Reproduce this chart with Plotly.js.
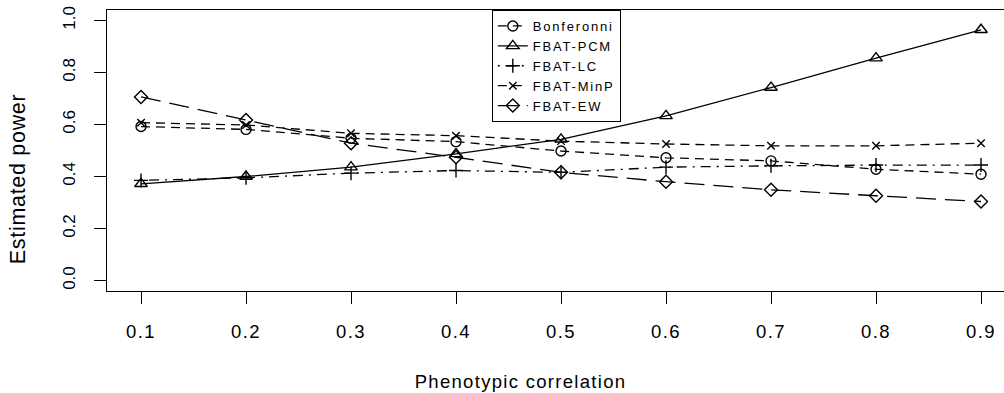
<!DOCTYPE html>
<html>
<head>
<meta charset="utf-8">
<script src="https://cdn.plot.ly/plotly-3.0.1.min.js"></script>
<style>
html,body{margin:0;padding:0;background:#fff;}
#chart{width:1004px;height:393px;}
#chart .xtick text{letter-spacing:1.4px;}
#chart .annotation[data-index="0"] text{letter-spacing:1.3px;}
#chart .annotation[data-index="1"] text{letter-spacing:0.7px;}
.legendtext{letter-spacing:1.8px;}
</style>
</head>
<body>
<div id="chart"></div>
<script>
const correlation = [0.1, 0.2, 0.3, 0.4, 0.5, 0.6, 0.7, 0.8, 0.9];
const bonferonni = [0.592, 0.581, 0.547, 0.534, 0.498, 0.472, 0.460, 0.428, 0.409];
const fbatPCM    = [0.372, 0.400, 0.436, 0.487, 0.543, 0.633, 0.742, 0.855, 0.964];
const fbatLC     = [0.385, 0.395, 0.413, 0.423, 0.416, 0.436, 0.441, 0.444, 0.444];
const fbatMinP   = [0.607, 0.598, 0.566, 0.557, 0.536, 0.525, 0.518, 0.518, 0.528];
const fbatEW     = [0.706, 0.617, 0.528, 0.474, 0.416, 0.380, 0.349, 0.326, 0.304];
const seriesNames = ["Bonferonni", "FBAT-PCM", "FBAT-LC", "FBAT-MinP", "FBAT-EW"];
const xTicks = [0.1, 0.2, 0.3, 0.4, 0.5, 0.6, 0.7, 0.8, 0.9];
const xTickText = ["0.1", "0.2", "0.3", "0.4", "0.5", "0.6", "0.7", "0.8", "0.9"];
const yTicks = [0, 0.2, 0.4, 0.6, 0.8, 1.0];
const yTickText = ["0.0", "0.2", "0.4", "0.6", "0.8", "1.0"];
const xTitle = "Phenotypic correlation";
const yTitle = "Estimated power";

const FONT = "Liberation Sans, Arial, Helvetica, sans-serif";
function tr(name, y, symbol, size, dash) {
  return {
    x: correlation, y: y, name: name, type: "scatter", mode: "lines+markers",
    line: {color: "#000", width: 1.3, dash: dash},
    marker: {symbol: symbol, size: size, color: "#000", line: {color: "#000", width: 1.4}}
  };
}
const data = [
  tr(seriesNames[0], bonferonni, "circle-open", 10, "9px,6px"),
  tr(seriesNames[1], fbatPCM, "triangle-up-open", 11, "solid"),
  tr(seriesNames[2], fbatLC, "cross-thin-open", 10, "2px,6px,10px,6px"),
  tr(seriesNames[3], fbatMinP, "x-thin-open", 7.5, "9px,6px"),
  tr(seriesNames[4], fbatEW, "diamond-open", 10, "20px,9px")
];
const layout = {
  width: 1004, height: 393,
  margin: {l: 107, r: 0, t: 10, b: 102, pad: 0},
  paper_bgcolor: "#fff", plot_bgcolor: "#fff",
  font: {family: FONT, size: 14, color: "#000"},
  showlegend: true,
  legend: {
    x: 0.429, y: 1, xanchor: "left", yanchor: "top",
    bordercolor: "#000", borderwidth: 1, bgcolor: "#fff",
    font: {family: FONT, size: 13, color: "#000"},
    tracegroupgap: 0
  },
  xaxis: {
    range: [0.0676, 0.9219],
    tickvals: xTicks, ticktext: xTickText,
    tickfont: {family: FONT, size: 18.5},
    ticks: "outside", ticklen: 12, tickwidth: 1, tickcolor: "#000",
    ticklabelstandoff: 11,
    showline: true, mirror: true, linecolor: "#000", linewidth: 1.3,
    showgrid: false, zeroline: false
  },
  yaxis: {
    range: [-0.04, 1.04],
    tickvals: yTicks, ticktext: yTickText, tickangle: -90,
    tickfont: {family: FONT, size: 17},
    ticks: "outside", ticklen: 12, tickwidth: 1, tickcolor: "#000",
    ticklabelstandoff: 12,
    showline: true, mirror: false, linecolor: "#000", linewidth: 1.3,
    showgrid: false, zeroline: false
  },
  annotations: [
    {text: xTitle, xref: "paper", yref: "paper", x: 0.4615, y: 0,
     xanchor: "center", yanchor: "middle", yshift: -90, showarrow: false,
     font: {family: FONT, size: 18.5, color: "#000"}},
    {text: yTitle, xref: "paper", yref: "paper", x: 0, y: 0.3986,
     xanchor: "center", yanchor: "middle", xshift: -89, textangle: -90, showarrow: false,
     font: {family: FONT, size: 21.5, color: "#000"}}
  ]
};
Plotly.newPlot("chart", data, layout, {displayModeBar: false, staticPlot: true});
</script>
</body>
</html>
